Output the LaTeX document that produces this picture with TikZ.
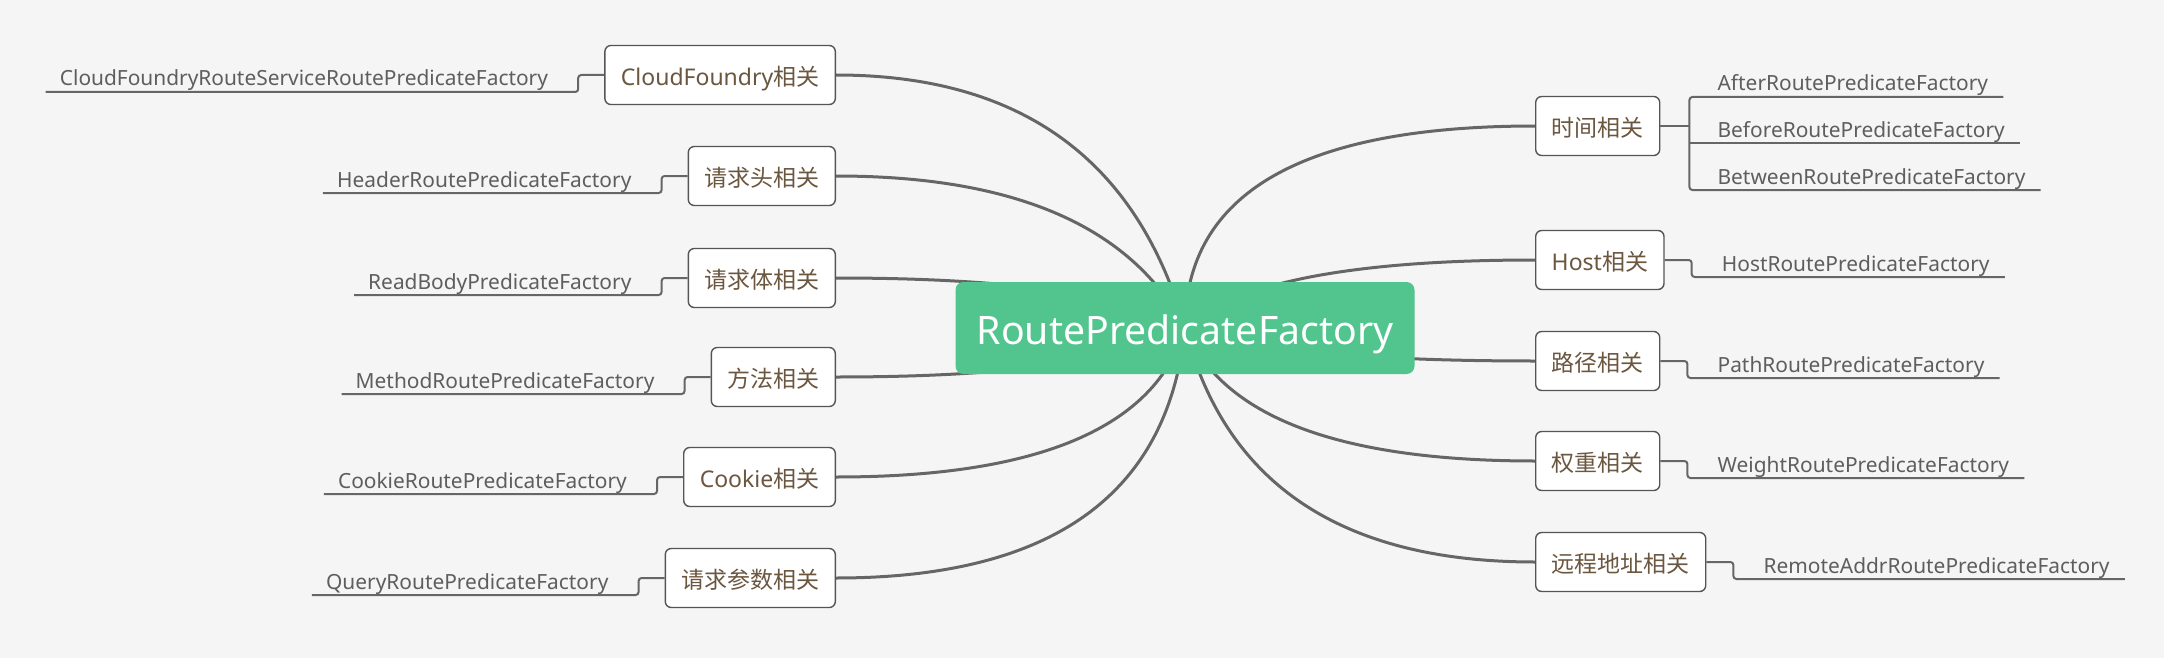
\documentclass[tikz,border=0pt]{standalone}
\usepackage{fontspec}
\setmainfont{Noto Sans}
\newfontfamily\cjk{Noto Sans CJK SC}
\usetikzlibrary{calc}
\pgfdeclarelayer{bg}
\pgfsetlayers{bg,main}
\definecolor{bgc}{HTML}{F5F5F5}
\definecolor{rootc}{HTML}{52C48D}
\definecolor{linec}{HTML}{666666}
\definecolor{boxc}{HTML}{555555}
\definecolor{brownc}{HTML}{6B563F}
\definecolor{leafc}{HTML}{5E5E5E}
\tikzset{
  rootnode/.style={fill=rootc, rounded corners=8pt, text=white, minimum width=459pt, minimum height=92pt, inner sep=0pt, text height=33pt, text depth=0pt, font=\fontsize{39.2}{47}\selectfont},
  branchbox/.style={draw=boxc, line width=1.4pt, fill=white, rounded corners=6pt, minimum height=59pt, inner xsep=16pt, inner ysep=0pt, text height=21pt, text depth=0pt, text=brownc, font=\fontsize{23}{28}\selectfont},
  leaf/.style={inner sep=0pt, text=leafc, font=\fontsize{20.9}{25}\selectfont},
  curve/.style={draw=linec, line width=3pt},
  stem/.style={draw=linec, line width=2pt, rounded corners=3pt}
}
\newcommand\bcurve[2]{\draw[curve] let \p1=(root.center), \p2=(#1) in (\p1) .. controls ({\x1+2/3*(#2pt-\x1)}, {\y1+2/3*(\y2-\y1)}) and ({\x2+2/3*(#2pt-\x2)}, \y2) .. (\p2);}
\begin{document}
\begin{tikzpicture}[x=1pt,y=-1pt]
\useasboundingbox (0,0) rectangle (2178,658);
\begin{pgfonlayer}{bg}
\fill[bgc] (0,0) rectangle (2164,658);
\fill[white] (2164,0) rectangle (2178,658);
\end{pgfonlayer}

\node[rootnode] (root) at (1185,328) {RoutePredicateFactory};

% left branches
\node[branchbox, anchor=east] (b1) at (836,75) {CloudFoundry{\cjk 相关}};
\node[branchbox, anchor=east] (b2) at (836,176) {{\cjk 请求头相关}};
\node[branchbox, anchor=east] (b3) at (836,278) {{\cjk 请求体相关}};
\node[branchbox, anchor=east] (b4) at (836,377) {{\cjk 方法相关}};
\node[branchbox, anchor=east] (b5) at (836,477) {Cookie{\cjk 相关}};
\node[branchbox, anchor=east] (b6) at (836,578) {{\cjk 请求参数相关}};

% right branches
\node[branchbox, anchor=west] (r1) at (1535,126) {{\cjk 时间相关}};
\node[branchbox, anchor=west] (r2) at (1535,260) {Host{\cjk 相关}};
\node[branchbox, anchor=west] (r3) at (1535,361) {{\cjk 路径相关}};
\node[branchbox, anchor=west] (r4) at (1535,461) {{\cjk 权重相关}};
\node[branchbox, anchor=west] (r5) at (1535,562) {{\cjk 远程地址相关}};

% left leaves
\foreach \i/\t in {1/CloudFoundryRouteServiceRoutePredicateFactory, 2/HeaderRoutePredicateFactory, 3/ReadBodyPredicateFactory, 4/MethodRoutePredicateFactory, 5/CookieRoutePredicateFactory, 6/QueryRoutePredicateFactory}{
  \node[leaf, anchor=base east] (l\i) at ($(b\i.west)+(-56,11)$) {\t};
  \draw[stem] (b\i.west) -- ++(-26,0) |- ($(l\i.base west)+(-14,6)$);
}

% right single leaves
\foreach \i/\t in {2/HostRoutePredicateFactory, 3/PathRoutePredicateFactory, 4/WeightRoutePredicateFactory, 5/RemoteAddrRoutePredicateFactory}{
  \node[leaf, anchor=base west] (h\i) at ($(r\i.east)+(57,11)$) {\t};
  \draw[stem] (r\i.east) -- ++(27,0) |- ($(h\i.base east)+(15,6)$);
}

% time related
\coordinate (t1) at ($(r1.east)+(29,0)$);
\node[leaf, anchor=base west] (a1) at ($(t1)+(28,-35)$) {AfterRoutePredicateFactory};
\node[leaf, anchor=base west] (a2) at ($(t1)+(28,11)$) {BeforeRoutePredicateFactory};
\node[leaf, anchor=base west] (a3) at ($(t1)+(28,58)$) {BetweenRoutePredicateFactory};
\draw[stem] (r1.east) -- (t1);
\draw[stem] ($(a1.base east)+(15,6)$) -| (t1) |- ($(a3.base east)+(15,6)$);
\draw[stem] ($(a2.base east)+(15,6)$) -- ($(t1 |- a2.base)+(0,6)$);

% curves
\begin{pgfonlayer}{bg}
\bcurve{b1.east}{1113}
\bcurve{b2.east}{1105}
\bcurve{b3.east}{1100}
\bcurve{b4.east}{1100}
\bcurve{b5.east}{1141}
\bcurve{b6.east}{1160}
\bcurve{r1.west}{1185}
\bcurve{r2.west}{1260}
\bcurve{r3.west}{1280}
\bcurve{r4.west}{1240}
\bcurve{r5.west}{1245}
\end{pgfonlayer}
\end{tikzpicture}
\end{document}
